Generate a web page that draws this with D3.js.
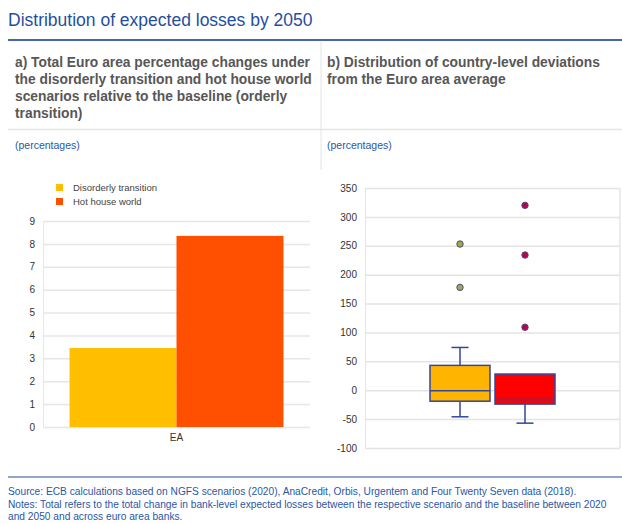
<!DOCTYPE html>
<html><head><meta charset="utf-8">
<script src="https://cdn.jsdelivr.net/npm/d3@7"></script>
<style>
html,body{margin:0;padding:0;background:#fff;}
svg{display:block;font-family:"Liberation Sans",Arial,sans-serif;}
</style></head>
<body>
<svg id="chart" width="622" height="523"></svg>
<script>
// ---- data ----
const barCategories = ["EA"];
const barSeries = ["Disorderly transition", "Hot house world"];
const barValues = [3.45, 8.35];
const barTicks = [0,1,2,3,4,5,6,7,8,9];

const boxCategories = ["Disorderly transition", "Hot house world"];
const boxLowerWhisker = [-46, -57];
const boxQ1 = [-19, -24];
const boxMedian = [-1, -16];
const boxQ3 = [43, 28];
const boxUpperWhisker = [74, 28];
const boxOutliers = [[253, 178], [320, 234, 109]];
const boxTicks = [-100,-50,0,50,100,150,200,250,300,350];

const colorsBar = ["#ffbf00", "#ff4f00"];
const colorsBox = ["#ffb400", "#ff0000"];
const outlierFill = ["#a4a848", "#c0004e"];

const svg = d3.select("#chart");
const blue = "#2a56a6";
const FONT = "Liberation Sans, Arial, sans-serif";
const hyphenFmt = d => String(d).replace("\u2212", "-");

// ---- header ----
svg.append("text").attr("x", 8).attr("y", 26).attr("font-size", 17.5).attr("fill", "#1f4f9f")
  .text("Distribution of expected losses by 2050");
svg.append("line").attr("x1", 8).attr("x2", 622).attr("y1", 40).attr("y2", 40)
  .attr("stroke", "#4466aa").attr("stroke-width", 2);
svg.append("line").attr("x1", 321).attr("x2", 321).attr("y1", 42).attr("y2", 170)
  .attr("stroke", "#e4e4e4").attr("stroke-width", 1);
svg.append("line").attr("x1", 8).attr("x2", 622).attr("y1", 129.5).attr("y2", 129.5)
  .attr("stroke", "#e4e4e4").attr("stroke-width", 1.5);

const subA = ["a) Total Euro area percentage changes under",
  "the disorderly transition and hot house world",
  "scenarios relative to the baseline (orderly",
  "transition)"];
const subB = ["b) Distribution of country-level deviations", "from the Euro area average"];
subA.forEach((t, i) => svg.append("text").attr("x", 15).attr("y", 67 + i * 17)
  .attr("font-size", 13.8).attr("font-weight", "bold").attr("fill", "#575757").text(t));
subB.forEach((t, i) => svg.append("text").attr("x", 327).attr("y", 67 + i * 17)
  .attr("font-size", 13.8).attr("font-weight", "bold").attr("fill", "#575757").text(t));
svg.append("text").attr("x", 15).attr("y", 149).attr("font-size", 10.5).attr("fill", blue).text("(percentages)");
svg.append("text").attr("x", 327).attr("y", 149).attr("font-size", 10.5).attr("fill", blue).text("(percentages)");

// ---- left bar chart ----
const L = {left: 43, right: 310, top: 221, bottom: 427};
const yL = d3.scaleLinear().domain([0, 9]).range([L.bottom, L.top]);
const xL = d3.scaleBand().domain(barCategories).range([L.left, L.right]).paddingInner(0).paddingOuter(0.124);
const xLs = d3.scaleBand().domain(barSeries).range([0, xL.bandwidth()]).padding(0);

const gL = svg.append("g");
gL.append("g").attr("transform", `translate(${L.left},0)`)
  .call(d3.axisLeft(yL).tickValues(barTicks).tickSize(-(L.right - L.left)).tickFormat(d3.format("d")))
  .call(g => g.select(".domain").attr("stroke", "#e8e8e8"))
  .call(g => g.selectAll(".tick line").attr("stroke", "#e6e6e6").attr("stroke-width", 1.5))
  .call(g => g.selectAll(".tick text").attr("x", -8).attr("font-size", 10).attr("fill", "#333")
    .attr("font-family", FONT));

barCategories.forEach(c => {
  barSeries.forEach((s, i) => {
    gL.append("rect").attr("x", xL(c) + xLs(s)).attr("width", xLs.bandwidth())
      .attr("y", yL(barValues[i])).attr("height", yL(0) - yL(barValues[i]))
      .attr("fill", colorsBar[i]);
  });
});
gL.append("g").attr("transform", `translate(0,${L.bottom})`)
  .call(d3.axisBottom(xL).tickSize(0).tickPadding(7))
  .call(g => g.select(".domain").remove())
  .call(g => g.selectAll(".tick text").attr("font-size", 10).attr("fill", "#333")
    .attr("font-family", FONT));

// legend
barSeries.forEach((s, i) => {
  svg.append("rect").attr("x", 56).attr("y", 184 + i * 14).attr("width", 7).attr("height", 7).attr("fill", colorsBar[i]);
  svg.append("text").attr("x", 73).attr("y", 191 + i * 14).attr("font-size", 9.5).attr("fill", "#444").text(s);
});

// ---- right box plot ----
const R = {left: 365, right: 620, top: 188, bottom: 448};
const yR = d3.scaleLinear().domain([-100, 350]).range([R.bottom, R.top]);
const xR = d3.scaleBand().domain(boxCategories).range([R.left, R.right]).paddingInner(0.077).paddingOuter(1);

const gR = svg.append("g");
gR.append("g").attr("transform", `translate(${R.left},0)`)
  .call(d3.axisLeft(yR).tickValues(boxTicks).tickSize(-(R.right - R.left)).tickFormat(hyphenFmt))
  .call(g => g.select(".domain").attr("stroke", "#e6e6e6"))
  .call(g => g.selectAll(".tick line").attr("stroke", "#e4e4e4").attr("stroke-width", 1.5))
  .call(g => g.selectAll(".tick text").attr("x", -8).attr("font-size", 10).attr("fill", "#333")
    .attr("font-family", FONT));
gR.append("line").attr("x1", R.right).attr("x2", R.right).attr("y1", R.top).attr("y2", R.bottom)
  .attr("stroke", "#e6e6e6").attr("stroke-width", 1.5);

const boxStroke = "#34469c";
boxCategories.forEach((c, i) => {
  const x0 = xR(c), w = xR.bandwidth(), cx = x0 + w / 2, cap = 8.5;
  gR.append("line").attr("x1", cx).attr("x2", cx).attr("y1", yR(boxUpperWhisker[i])).attr("y2", yR(boxQ3[i]))
    .attr("stroke", boxStroke).attr("stroke-width", 1.5);
  gR.append("line").attr("x1", cx).attr("x2", cx).attr("y1", yR(boxQ1[i])).attr("y2", yR(boxLowerWhisker[i]))
    .attr("stroke", boxStroke).attr("stroke-width", 1.5);
  if (boxUpperWhisker[i] > boxQ3[i]) {
    gR.append("line").attr("x1", cx - cap).attr("x2", cx + cap).attr("y1", yR(boxUpperWhisker[i])).attr("y2", yR(boxUpperWhisker[i]))
      .attr("stroke", boxStroke).attr("stroke-width", 1.5);
  }
  gR.append("line").attr("x1", cx - cap).attr("x2", cx + cap).attr("y1", yR(boxLowerWhisker[i])).attr("y2", yR(boxLowerWhisker[i]))
    .attr("stroke", boxStroke).attr("stroke-width", 1.5);
  gR.append("rect").attr("x", x0).attr("width", w).attr("y", yR(boxQ3[i])).attr("height", yR(boxQ1[i]) - yR(boxQ3[i]))
    .attr("fill", colorsBox[i]).attr("stroke", boxStroke).attr("stroke-width", 1.5);
  gR.append("line").attr("x1", x0).attr("x2", x0 + w).attr("y1", yR(boxMedian[i])).attr("y2", yR(boxMedian[i]))
    .attr("stroke", boxStroke).attr("stroke-width", 1.5);
  boxOutliers[i].forEach(v => {
    gR.append("circle").attr("cx", cx).attr("cy", yR(v)).attr("r", 3.2)
      .attr("fill", outlierFill[i]).attr("stroke", "#4a4f7a").attr("stroke-width", 1);
  });
});

// ---- footer ----
svg.append("line").attr("x1", 8).attr("x2", 622).attr("y1", 477).attr("y2", 477)
  .attr("stroke", "#6f86b8").attr("stroke-width", 1.5);
const notes = ["Source: ECB calculations based on NGFS scenarios (2020), AnaCredit, Orbis, Urgentem and Four Twenty Seven data (2018).",
  "Notes: Total refers to the total change in bank-level expected losses between the respective scenario and the baseline between 2020",
  "and 2050 and across euro area banks."];
notes.forEach((t, i) => svg.append("text").attr("x", 8).attr("y", 495 + i * 12.5).attr("font-size", 10.2)
  .attr("fill", blue).text(t));
</script>
</body></html>
